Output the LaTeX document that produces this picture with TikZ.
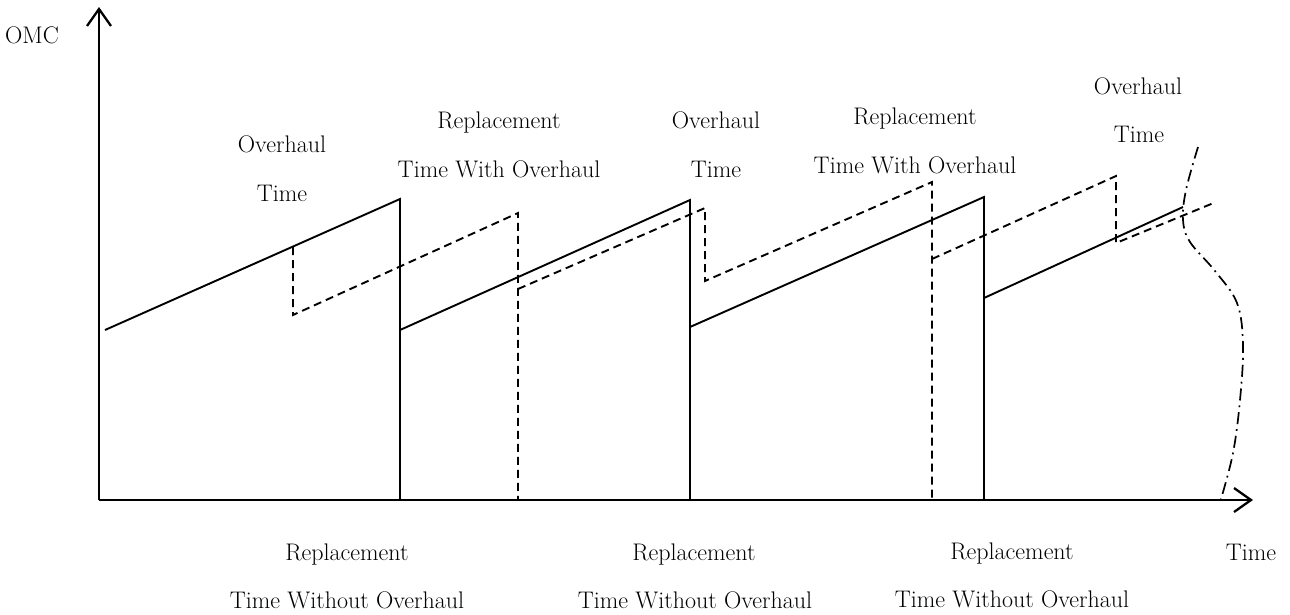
\documentclass[tikz,border=0pt]{standalone}
\usetikzlibrary{arrows.meta}
\begin{document}
\begin{tikzpicture}[x=1pt,y=-1pt,
  axis/.style={line width=2.6pt,-{Straight Barb[length=17pt,width=24pt,line width=2.3pt]}},
  solidline/.style={line width=1.9pt},
  dashline/.style={line width=1.9pt,dash pattern=on 8pt off 5pt},
  dashdot/.style={line width=1.7pt,dash pattern=on 12pt off 5pt on 1.8pt off 5pt},
  lbl/.style={font=\fontsize{24}{28}\selectfont,anchor=base,inner sep=0pt}]
\useasboundingbox (0,0) rectangle (1290,614);
% axes
\coordinate (O) at (99,500);
\coordinate (Ytop) at (99,7);
\coordinate (Xend) at (1253,500);
\draw[axis] (O) -- (Ytop);
\draw[axis] (O) -- (Xend);
% solid sawtooth
\coordinate (s1a) at (105,330); \coordinate (s1b) at (400,199); \coordinate (s1c) at (400,500);
\coordinate (s2a) at (400,330); \coordinate (s2b) at (690,200); \coordinate (s2c) at (690,500);
\coordinate (s3a) at (690,327); \coordinate (s3b) at (984,197); \coordinate (s3c) at (984,500);
\coordinate (s4a) at (984,298); \coordinate (s4b) at (1183,207);
\draw[solidline] (s1a) -- (s1b) -- (s1c);
\draw[solidline] (s2a) -- (s2b) -- (s2c);
\draw[solidline] (s3a) -- (s3b) -- (s3c);
\draw[solidline] (s4a) -- (s4b);
% dashed sawtooth
\coordinate (d1a) at (293,247); \coordinate (d1b) at (293,315); \coordinate (d1c) at (518,213); \coordinate (d1d) at (518,500);
\coordinate (d2a) at (518,289); \coordinate (d2b) at (705,208); \coordinate (d2c) at (705,281); \coordinate (d2d) at (932,182); \coordinate (d2e) at (932,500);
\coordinate (d3a) at (932,259); \coordinate (d3b) at (1116,176); \coordinate (d3c) at (1116,243); \coordinate (d3d) at (1216,202);
\draw[dashline] (d1a) -- (d1b) -- (d1c) -- (d1d);
\draw[dashline] (d2a) -- (d2b) -- (d2c) -- (d2d) -- (d2e);
\draw[dashline] (d3a) -- (d3b) -- (d3c) -- (d3d);
% dash-dot break curve
\draw[dashdot] plot[smooth,tension=0.6] coordinates {(1198,147) (1186,190) (1183,220) (1190,242) (1215,271) (1237,303) (1243,345) (1240,400) (1233,453) (1221,499)};
% labels
\node[lbl] (omc) at (32,43) {OMC};
\node[lbl] (oh1) at (282,152) {Overhaul};
\node[lbl] (t1) at (282,201) {Time};
\node[lbl] (rp2) at (499,128) {Replacement};
\node[lbl] (tw2) at (499,177) {Time With Overhaul};
\node[lbl] (oh3) at (716,128) {Overhaul};
\node[lbl] (t3) at (716,177) {Time};
\node[lbl] (rp4) at (915,124) {Replacement};
\node[lbl] (tw4) at (915,173) {Time With Overhaul};
\node[lbl] (oh5) at (1138,94) {Overhaul};
\node[lbl] (t5) at (1139,142) {Time};
\node[lbl] (rb1) at (347,560) {Replacement};
\node[lbl] (tb1) at (347,608) {Time Without Overhaul};
\node[lbl] (rb2) at (694,560) {Replacement};
\node[lbl] (tb2) at (695,608) {Time Without Overhaul};
\node[lbl] (rb3) at (1012,559) {Replacement};
\node[lbl] (tb3) at (1012,607) {Time Without Overhaul};
\node[lbl] (tx) at (1251,560) {Time};
\end{tikzpicture}
\end{document}
